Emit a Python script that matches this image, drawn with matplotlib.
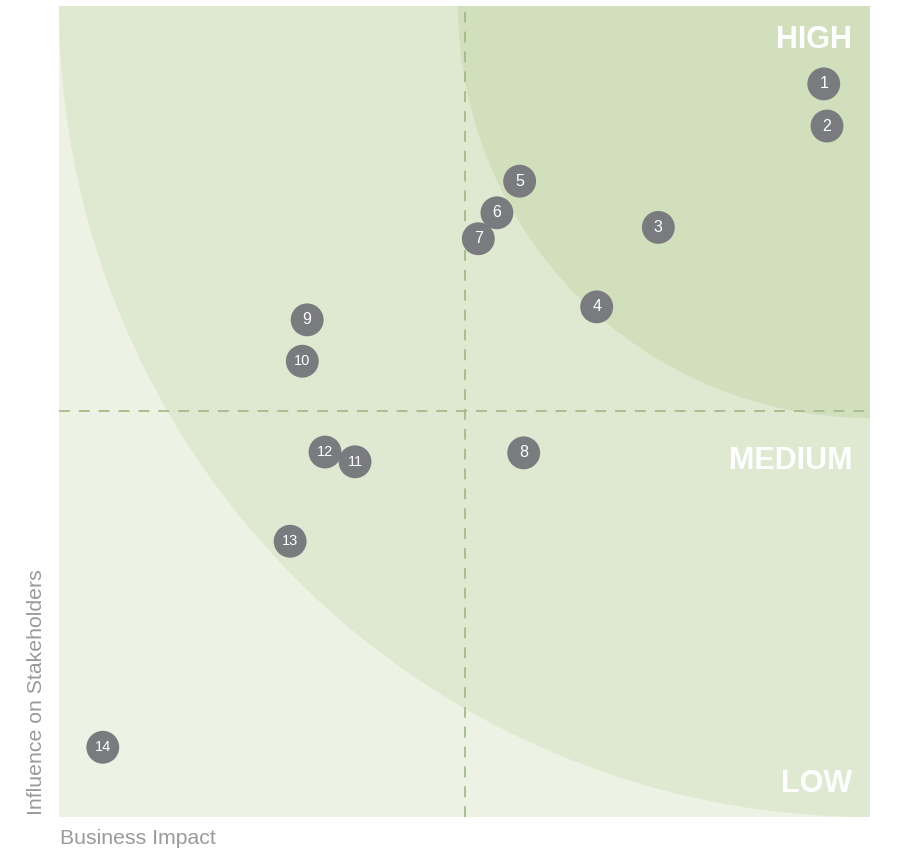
import matplotlib
matplotlib.use("Agg")
import matplotlib.pyplot as plt
import matplotlib.patches as mpatches

plt.rcParams['font.family'] = ['Liberation Sans', 'DejaVu Sans']

# Issues: id, business impact (x), influence on stakeholders (y)
ids = [1, 2, 3, 4, 5, 6, 7, 8, 9, 10, 11, 12, 13, 14]
impact = [9.43, 9.47, 7.39, 6.63, 5.68, 5.40, 5.17, 5.73, 3.06, 3.00, 3.65, 3.28, 2.85, 0.54]
influence = [9.04, 8.52, 7.27, 6.29, 7.84, 7.45, 7.13, 4.49, 6.13, 5.62, 4.38, 4.50, 3.40, 0.86]

zones = ['HIGH', 'MEDIUM', 'LOW']
zone_y = [9.58, 4.39, 0.41]

W, H = 899, 852
fig = plt.figure(figsize=(W / 100, H / 100), dpi=100)
ax = fig.add_axes([59 / W, (H - 817) / H, 811 / W, 811 / H])
ax.set_xlim(0, 10)
ax.set_ylim(0, 10)
ax.set_facecolor('#eef2e4')
for s in ax.spines.values():
    s.set_visible(False)
ax.set_xticks([])
ax.set_yticks([])

# zone arcs centred on the top-right corner
ax.add_patch(mpatches.Circle((10, 10), 10.0, color='#dfe8d0', lw=0, zorder=1))
ax.add_patch(mpatches.Circle((10, 10), 5.08, color='#d2dfbd', lw=0, zorder=2))

# quadrant dividers
ax.axvline(5, color='#a5ba89', lw=1.3, ls=(0, (6, 5)), zorder=3)
ax.axhline(5, color='#a5ba89', lw=1.3, ls=(0, (6, 5)), zorder=3)

for z, y in zip(zones, zone_y):
    ax.text(9.78, y, z, color='white', fontsize=22, fontweight='bold',
            ha='right', va='center', zorder=4)

ax.scatter(impact, influence, s=560, color='#7a7b7f', edgecolors='none', zorder=5)
for i, x, y in zip(ids, impact, influence):
    ax.text(x, y, str(i), color='white', fontsize=11.5 if i < 10 else 10.5,
            ha='center', va='center', zorder=6)

fig.text(60 / W, 1 - 838 / H, 'Business Impact', color='#9a9a9a', fontsize=15.3,
         ha='left', va='center')
fig.text(37 / W, 1 - 815 / H, 'Influence on Stakeholders', color='#9a9a9a',
         fontsize=15.3, rotation=90, ha='center', va='bottom')

fig.savefig('out.png', dpi=100)
